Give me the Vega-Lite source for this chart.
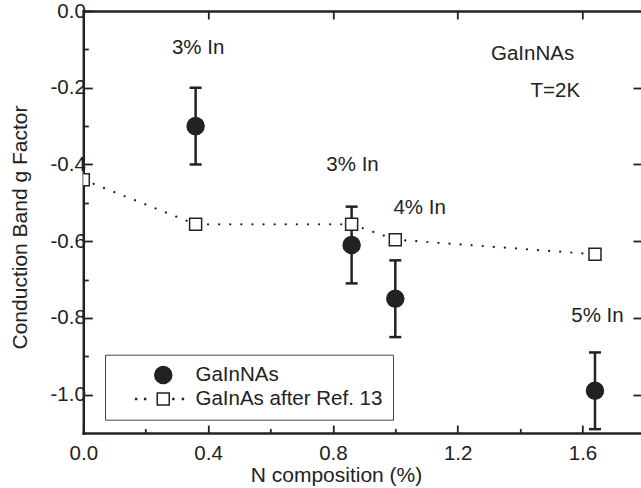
{
  "$schema": "https://vega.github.io/schema/vega-lite/v6.json",
  "width": 557.7,
  "height": 422,
  "autosize": {"type": "none"},
  "padding": {"left": 83.3, "top": 11, "right": 0, "bottom": 55},
  "background": "white",
  "config": {
    "view": {"stroke": null},
    "axis": {
      "domain": false, "grid": false, "domainColor": "#222", "domainWidth": 2.5, "domainCap": "square",
      "tickColor": "#222", "tickWidth": 1.8, "labelFlush": false,
      "labelFont": "Liberation Sans", "labelFontSize": 20.5, "labelColor": "#222",
      "titleFont": "Liberation Sans", "titleFontSize": 21, "titleFontWeight": "normal", "titleColor": "#222"
    },
    "text": {"font": "Liberation Sans", "fontSize": 20.5, "color": "#222"}
  },
  "datasets": {
    "all": [
      {"series": "GaInNAs", "N": 0.36, "g": -0.30, "lo": -0.40, "hi": -0.20},
      {"series": "GaInNAs", "N": 0.86, "g": -0.61, "lo": -0.71, "hi": -0.51},
      {"series": "GaInNAs", "N": 1.00, "g": -0.75, "lo": -0.85, "hi": -0.65},
      {"series": "GaInNAs", "N": 1.64, "g": -0.99, "lo": -1.09, "hi": -0.89},
      {"series": "GaInAs after Ref. 13", "N": 0.00, "g": -0.440},
      {"series": "GaInAs after Ref. 13", "N": 0.36, "g": -0.556},
      {"series": "GaInAs after Ref. 13", "N": 0.86, "g": -0.556},
      {"series": "GaInAs after Ref. 13", "N": 1.00, "g": -0.596},
      {"series": "GaInAs after Ref. 13", "N": 1.64, "g": -0.634}
    ],
    "labels": [
      {"x": 0.368, "y": -0.097, "text": "3% In"},
      {"x": 0.863, "y": -0.401, "text": "3% In"},
      {"x": 1.078, "y": -0.514, "text": "4% In"},
      {"x": 1.648, "y": -0.796, "text": "5% In"},
      {"x": 1.440, "y": -0.1126, "text": "GaInNAs"},
      {"x": 1.513, "y": -0.208, "text": "T=2K"}
    ]
  },
  "resolve": {"axis": {"x": "independent", "y": "independent"}},
  "layer": [
    {
      "data": {"name": "all"},
      "transform": [{"filter": "datum.series === 'GaInAs after Ref. 13'"}],
      "mark": {"type": "line", "stroke": "#222", "strokeWidth": 2.2, "strokeDash": [0.1, 11], "strokeCap": "round", "clip": true},
      "encoding": {
        "x": {"field": "N", "type": "quantitative", "scale": {"domain": [0, 1.7875], "nice": false, "zero": false},
          "axis": {"orient": "bottom", "domain": true, "values": [0, 0.4, 0.8, 1.2, 1.6], "format": ".1f", "tickSize": -8, "labelPadding": 18, "title": "N composition (%)", "titlePadding": 1, "titleX": 252.7}},
        "y": {"field": "g", "type": "quantitative", "scale": {"domain": [-1.1, 0], "nice": false, "zero": false},
          "axis": {"orient": "left", "domain": true, "values": [0, -0.2, -0.4, -0.6, -0.8, -1.0], "labelExpr": "replace(format(datum.value, '.1f'), '\u2212', '-')", "tickSize": -9, "labelPadding": 7, "title": "Conduction Band g Factor", "titlePadding": 19, "titleY": 216}}
      }
    },
    {
      "data": {"name": "all"},
      "transform": [{"filter": "datum.series === 'GaInNAs'"}],
      "mark": {"type": "rule", "stroke": "#222", "strokeWidth": 2.5},
      "encoding": {
        "x": {"field": "N", "type": "quantitative",
          "axis": {"orient": "bottom", "values": [0.2, 0.6, 1.0, 1.4], "labels": false, "tickSize": -4.5, "title": null}},
        "y": {"field": "lo", "type": "quantitative",
          "axis": {"orient": "left", "values": [-0.1, -0.3, -0.5, -0.7, -0.9], "labels": false, "tickSize": -5, "title": null}},
        "y2": {"field": "hi"}
      }
    },
    {
      "data": {"name": "all"},
      "transform": [{"filter": "datum.series === 'GaInNAs'"}],
      "mark": {"type": "tick", "orient": "horizontal", "color": "#222", "size": 12, "thickness": 2.5, "opacity": 1},
      "encoding": {
        "x": {"field": "N", "type": "quantitative", "axis": null},
        "y": {"field": "lo", "type": "quantitative", "axis": null}
      }
    },
    {
      "data": {"name": "all"},
      "transform": [{"filter": "datum.series === 'GaInNAs'"}],
      "mark": {"type": "tick", "orient": "horizontal", "color": "#222", "size": 12, "thickness": 2.5, "opacity": 1},
      "encoding": {
        "x": {"field": "N", "type": "quantitative", "axis": null},
        "y": {"field": "hi", "type": "quantitative", "axis": null}
      }
    },
    {
      "data": {"name": "all"},
      "mark": {"type": "point", "filled": true, "stroke": "#222", "strokeWidth": 1.5, "opacity": 1, "clip": true},
      "encoding": {
        "x": {"field": "N", "type": "quantitative",
          "axis": {"orient": "top", "domain": true, "values": [0, 0.4, 0.8, 1.2, 1.6], "labels": false, "tickSize": -8, "title": null}},
        "y": {"field": "g", "type": "quantitative",
          "axis": {"orient": "right", "values": [-0.2, -0.4, -0.6, -0.8, -1.0], "labels": false, "tickSize": -8, "title": null}},
        "shape": {"condition": {"test": "datum.series === 'GaInNAs'", "value": "circle"}, "value": "square"},
        "fill": {"condition": {"test": "datum.series === 'GaInNAs'", "value": "#222"}, "value": "white"},
        "size": {"condition": {"test": "datum.series === 'GaInNAs'", "value": 289}, "value": 144}
      }
    },
    {
      "data": {"name": "all"},
      "mark": {"type": "point", "filled": true, "stroke": "#222", "strokeWidth": 1.5, "opacity": 1},
      "encoding": {
        "x": {"field": "N", "type": "quantitative", "axis": null},
        "y": {"field": "g", "type": "quantitative", "axis": null},
        "fillOpacity": {"value": 0},
        "strokeOpacity": {"value": 0},
        "shape": {"field": "series", "type": "nominal",
          "scale": {"domain": ["GaInNAs", "GaInAs after Ref. 13"], "range": ["circle", "M-1,-1H1V1H-1Z M-4.6,-0.08h0.16v0.16h-0.16Z M-3.1,-0.08h0.16v0.16h-0.16Z M1.6,-0.08h0.16v0.16h-0.16Z M3.2,-0.08h0.16v0.16h-0.16Z"]},
          "legend": {
            "orient": "none", "legendX": 21.7, "legendY": 343.7, "title": null,
            "strokeColor": "#444", "fillColor": "white", "padding": 10,
            "symbolSize": 289, "symbolOffset": 38, "labelOffset": 22, "rowPadding": 2, "labelLimit": 400,
            "symbolStrokeWidth": 1.5, "symbolStrokeColor": "#222",
            "labelFont": "Liberation Sans", "labelFontSize": 20.5, "labelColor": "#222"
          }},
        "fill": {"field": "series", "type": "nominal",
          "scale": {"domain": ["GaInNAs", "GaInAs after Ref. 13"], "range": ["#222", "white"]}},
        "size": {"field": "series", "type": "nominal",
          "scale": {"domain": ["GaInNAs", "GaInAs after Ref. 13"], "range": [289, 144]}}
      }
    },
    {
      "data": {"name": "labels"},
      "mark": {"type": "text", "align": "center", "baseline": "middle"},
      "encoding": {
        "x": {"field": "x", "type": "quantitative", "axis": null},
        "y": {"field": "y", "type": "quantitative", "axis": null},
        "text": {"field": "text"}
      }
    }
  ]
}
